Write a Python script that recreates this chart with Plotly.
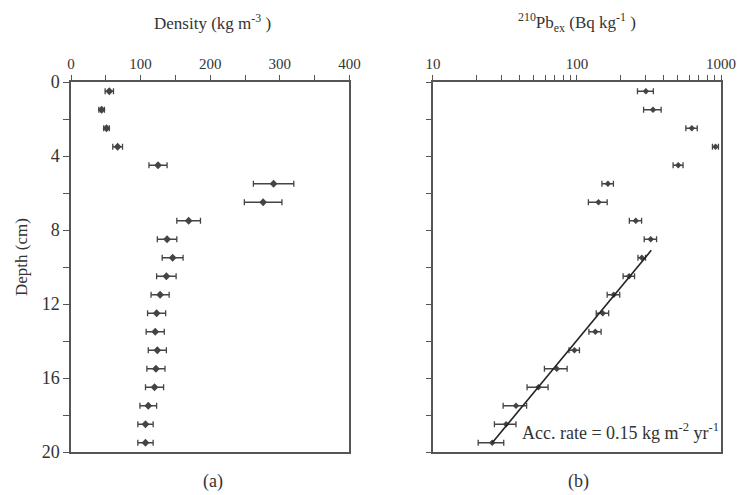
import plotly.graph_objects as go

# ---- data ----
depth = [0.5, 1.5, 2.5, 3.5, 4.5, 5.5, 6.5, 7.5, 8.5, 9.5,
         10.5, 11.5, 12.5, 13.5, 14.5, 15.5, 16.5, 17.5, 18.5, 19.5]
density = [55, 44, 51, 67, 125, 291, 276, 169, 138, 146,
           137, 128, 123, 121, 124, 122, 120, 111, 107, 107]
density_err = [6, 4, 4, 7, 13, 29, 27, 17, 14, 15,
               14, 13, 13, 13, 13, 13, 13, 12, 11, 11]
pb210 = [301, 337, 627, 916, 505, 164, 141, 256, 325, 282,
         230, 180, 151, 134, 96, 72.4, 54, 37.7, 32.2, 25.8]
pb210_err = [38, 47, 57, 44, 40, 15, 21, 25, 32, 17,
             21, 18, 15, 13, 8, 13, 9, 7, 5.5, 5.2]
fit_depth = [9.1, 19.5]
fit_pb = [328, 25.8]

FONT = "Liberation Serif"
TXT = "#333333"
AX = "#555555"
MK = "#444444"

fig = go.Figure()

fig.add_trace(go.Scatter(
    x=density, y=depth, mode="markers",
    marker=dict(symbol="diamond", size=6, color=MK),
    error_x=dict(type="data", array=density_err, color=MK, thickness=1.3, width=3),
    xaxis="x", yaxis="y", showlegend=False))

fig.add_trace(go.Scatter(
    x=pb210, y=depth, mode="markers",
    marker=dict(symbol="diamond", size=5, color=MK),
    error_x=dict(type="data", array=pb210_err, color=MK, thickness=1.3, width=3),
    xaxis="x2", yaxis="y2", showlegend=False))

fig.add_trace(go.Scatter(
    x=fit_pb, y=fit_depth, mode="lines",
    line=dict(color="#222222", width=1.6),
    xaxis="x2", yaxis="y2", showlegend=False))

common_line = dict(showline=True, linecolor=AX, linewidth=1.5, mirror=True,
                   showgrid=False, zeroline=False,
                   tickfont=dict(family=FONT, size=15, color=TXT),
                   ticks="outside", ticklen=5, tickcolor=AX, tickwidth=1)

fig.update_layout(
    width=748, height=495,
    margin=dict(l=71, r=19, t=82, b=43),
    paper_bgcolor="white", plot_bgcolor="white",
    font=dict(family=FONT, color=TXT),
    xaxis=dict(domain=[0, 0.4284], range=[0, 400], side="top", anchor="y",
               dtick=100, minor=dict(dtick=50, ticks="outside", ticklen=5, tickcolor=AX),
               **common_line),
    xaxis2=dict(domain=[0.5569, 1], type="log", range=[1, 3], side="top", anchor="y2",
                tickvals=[10, 100, 1000], ticktext=["10", "100", "1000"],
                minor=dict(tickvals=[20, 30, 40, 50, 60, 70, 80, 90,
                                     200, 300, 400, 500, 600, 700, 800, 900],
                           ticks="outside", ticklen=5, tickcolor=AX),
                **common_line),
    yaxis=dict(domain=[0, 1], range=[20, 0], anchor="x",
               dtick=4, minor=dict(dtick=2, ticks="outside", ticklen=6, tickcolor=AX),
               **{**common_line, "tickfont": dict(family=FONT, size=18, color=TXT),
                  "ticklen": 6}),
    yaxis2=dict(domain=[0, 1], range=[20, 0], anchor="x2", showticklabels=False,
                dtick=4, minor=dict(dtick=2, ticks="outside", ticklen=5, tickcolor=AX),
                **common_line),
)

ann = [
    dict(text="Density (kg m<sup>-3</sup> )", x=0.2177, y=1.162, xref="paper", yref="paper",
         showarrow=False, font=dict(family=FONT, size=17, color=TXT), xanchor="center", yanchor="middle"),
    dict(text="<sup>210</sup>Pb<sub>ex</sub> (Bq kg<sup>-1</sup> )", x=0.778, y=1.162,
         xref="paper", yref="paper", showarrow=False,
         font=dict(family=FONT, size=17, color=TXT), xanchor="center", yanchor="middle"),
    dict(text="Depth (cm)", x=-0.077, y=0.527, xref="paper", yref="paper", textangle=-90,
         showarrow=False, font=dict(family=FONT, size=17, color=TXT), xanchor="center", yanchor="middle"),
    dict(text="(a)", x=0.2177, y=-0.081, xref="paper", yref="paper", showarrow=False,
         font=dict(family=FONT, size=18, color=TXT), xanchor="center", yanchor="middle"),
    dict(text="(b)", x=0.781, y=-0.081, xref="paper", yref="paper", showarrow=False,
         font=dict(family=FONT, size=18, color=TXT), xanchor="center", yanchor="middle"),
    dict(text="Acc. rate = 0.15 kg m<sup>-2</sup> yr<sup>-1</sup>", x=1.0005, y=0.056,
         xref="paper", yref="paper", showarrow=False,
         font=dict(family=FONT, size=18, color=TXT), xanchor="right", yanchor="middle"),
]
fig.update_layout(annotations=ann)

fig.write_html("out.html", config={"displayModeBar": False},
               post_script="document.body.style.margin='0';")
